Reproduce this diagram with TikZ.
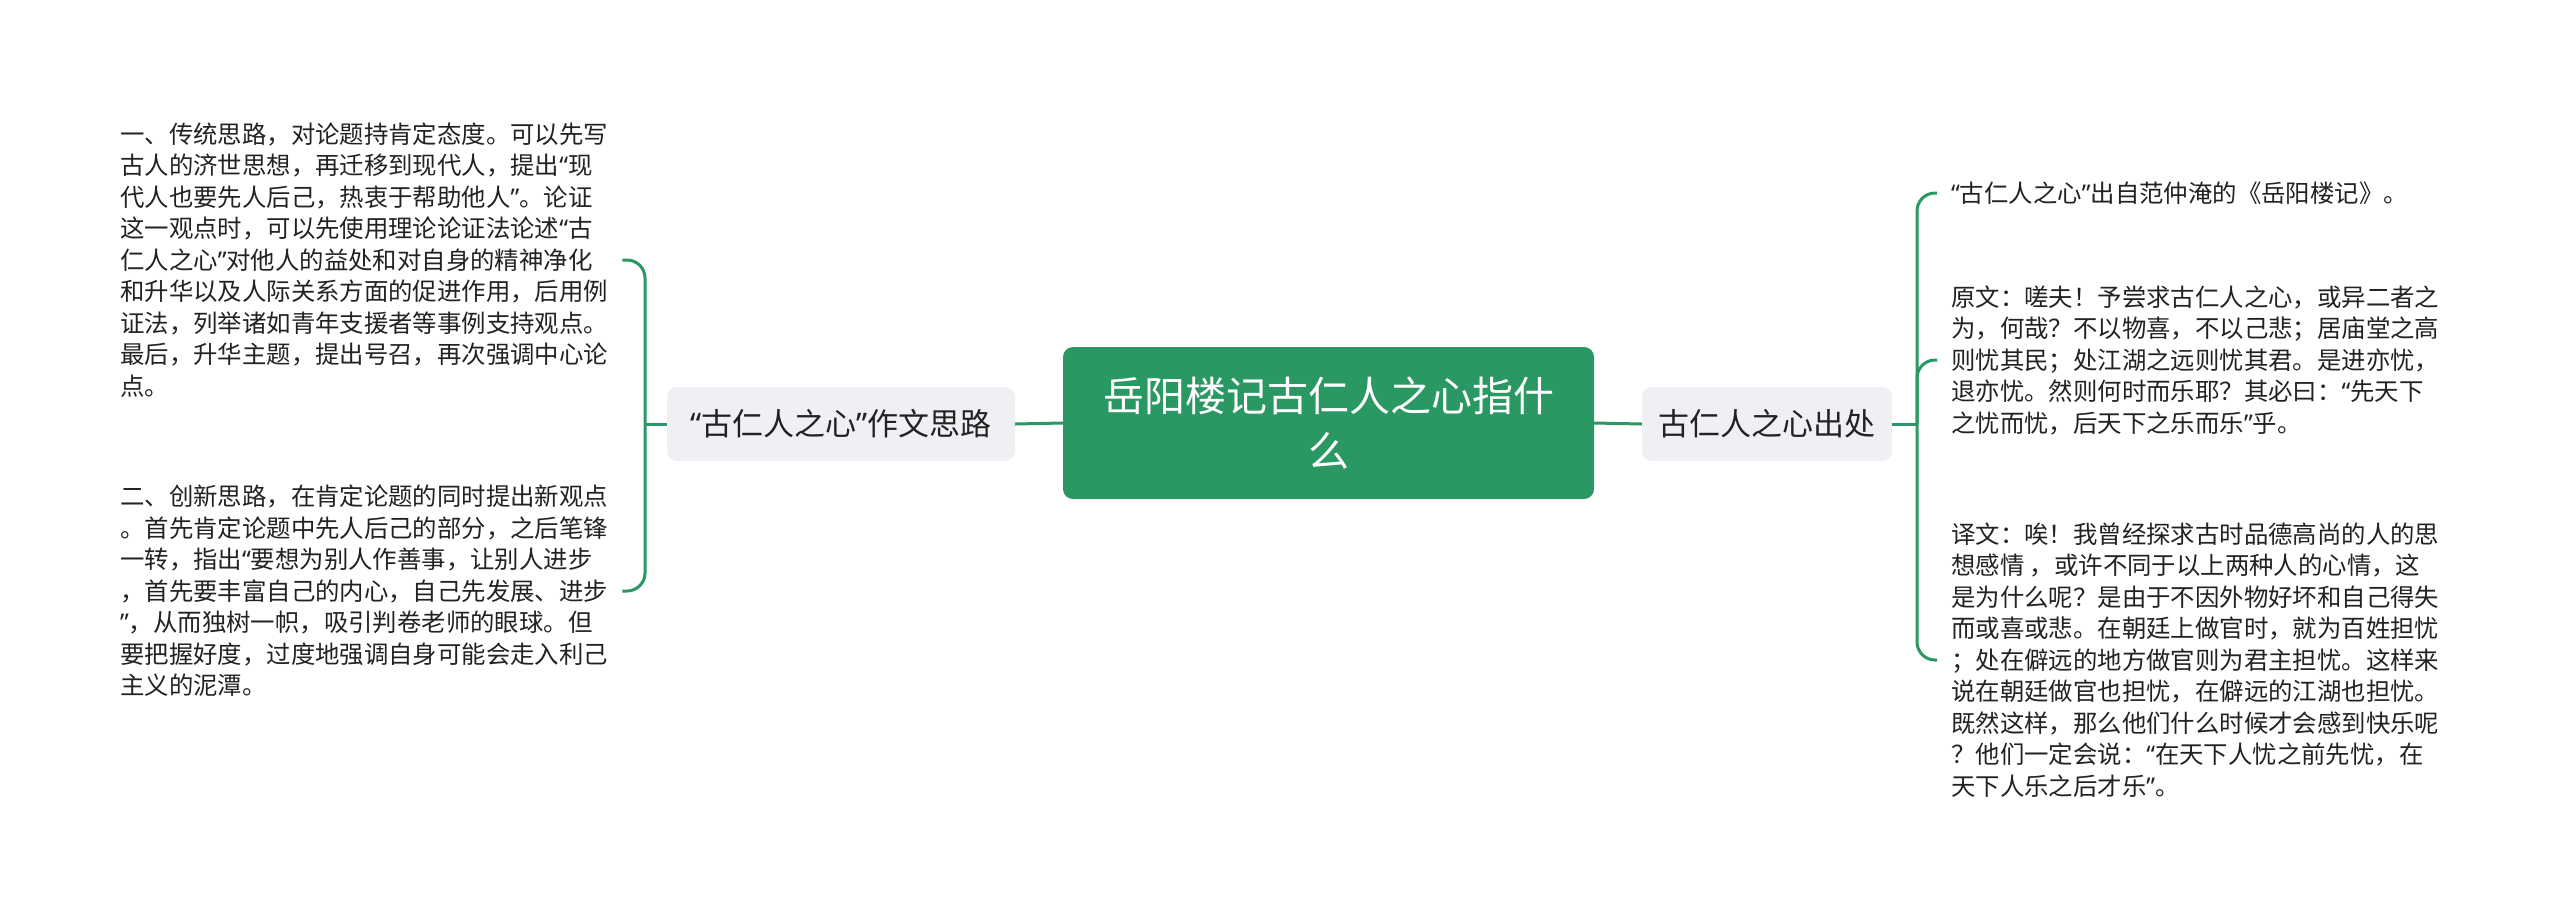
\documentclass[tikz,border=0pt]{standalone}
\usepackage{fontspec}
\setmainfont{Noto Sans CJK SC}
\newfontfamily\quotefont{Noto Sans}
\newcommand{\mmlq}{{\quotefont “}}
\newcommand{\mmrq}{{\quotefont ”}}
\definecolor{mmgreen}{HTML}{2A9863}
\definecolor{mmgray}{HTML}{EEF0F3}
\definecolor{mmtext}{HTML}{222222}
\tikzset{
  branch/.style={draw=mmgreen, line width=3pt, rounded corners=18pt},
  rootbox/.style={fill=mmgreen, rounded corners=10pt, minimum width=531pt, minimum height=152pt,
    align=center, text=white, font=\fontsize{41}{55}\selectfont},
  topicbox/.style={fill=mmgray, rounded corners=10pt, minimum height=74pt, inner xsep=14pt,
    text=mmtext, font=\fontsize{31}{38}\selectfont},
  leaftext/.style={align=left, inner sep=0pt, text=mmtext, font=\fontsize{24.4}{31.5}\selectfont},
}
\begin{document}
\begin{tikzpicture}[x=1pt, y=-1pt]
  \useasboundingbox[fill=white] (0,0) rectangle (2560,919);
  % centre and the two topics
  \node[rootbox] (root) at (1328.5,423) {岳阳楼记古仁人之心指什\\么};
  \node[topicbox, minimum width=348pt] (ideas) at (841,424) {\mmlq 古仁人之心\mmrq 作文思路};
  \node[topicbox, minimum width=250pt] (source) at (1767,424) {古仁人之心出处};
  \draw[branch] (root.west) -- (ideas.east);
  \draw[branch] (source.west) -- (root.east);
  % left leaves
  \node[leaftext, anchor=west, text width=490pt] (way1) at (120,260) {一、传统思路，对论题持肯定态度。可以先写\\古人的济世思想，再迁移到现代人，提出\mmlq 现\\代人也要先人后己，热衷于帮助他人\mmrq 。论证\\这一观点时，可以先使用理论论证法论述\mmlq 古\\仁人之心\mmrq 对他人的益处和对自身的精神净化\\和升华以及人际关系方面的促进作用，后用例\\证法，列举诸如青年支援者等事例支持观点。\\最后，升华主题，提出号召，再次强调中心论\\点。};
  \node[leaftext, anchor=west, text width=490pt] (way2) at (120,591) {二、创新思路，在肯定论题的同时提出新观点\\。首先肯定论题中先人后己的部分，之后笔锋\\一转，指出\mmlq 要想为别人作善事，让别人进步\\，首先要丰富自己的内心，自己先发展、进步\\\mmrq ，从而独树一帜，吸引判卷老师的眼球。但\\要把握好度，过度地强调自身可能会走入利己\\主义的泥潭。};
  \coordinate (lfork) at (645,424);
  \draw[branch] (ideas.west) -- (lfork);
  \draw[branch] (lfork) |- ([xshift=12pt]way1.east);
  \draw[branch] (lfork) |- ([xshift=12pt]way2.east);
  % right leaves
  \node[leaftext, anchor=west] (from) at (1951,193) {\mmlq 古仁人之心\mmrq 出自范仲淹的《岳阳楼记》。};
  \node[leaftext, anchor=west] (orig) at (1951,360) {原文：嗟夫！予尝求古仁人之心，或异二者之\\为，何哉？不以物喜，不以己悲；居庙堂之高\\则忧其民；处江湖之远则忧其君。是进亦忧，\\退亦忧。然则何时而乐耶？其必曰：\mmlq 先天下\\之忧而忧，后天下之乐而乐\mmrq 乎。};
  \node[leaftext, anchor=west] (trans) at (1951,660) {译文：唉！我曾经探求古时品德高尚的人的思\\想感情 ，或许不同于以上两种人的心情，这\\是为什么呢？是由于不因外物好坏和自己得失\\而或喜或悲。在朝廷上做官时，就为百姓担忧\\；处在僻远的地方做官则为君主担忧。这样来\\说在朝廷做官也担忧，在僻远的江湖也担忧。\\既然这样，那么他们什么时候才会感到快乐呢\\？他们一定会说：\mmlq 在天下人忧之前先忧，在\\天下人乐之后才乐\mmrq 。};
  \coordinate (rfork) at (1917,424);
  \draw[branch] (source.east) -- (rfork);
  \draw[branch] (rfork) |- ([xshift=-14pt]from.west);
  \draw[branch] (rfork) |- ([xshift=-14pt]orig.west);
  \draw[branch] (rfork) |- ([xshift=-14pt]trans.west);
\end{tikzpicture}
\end{document}
